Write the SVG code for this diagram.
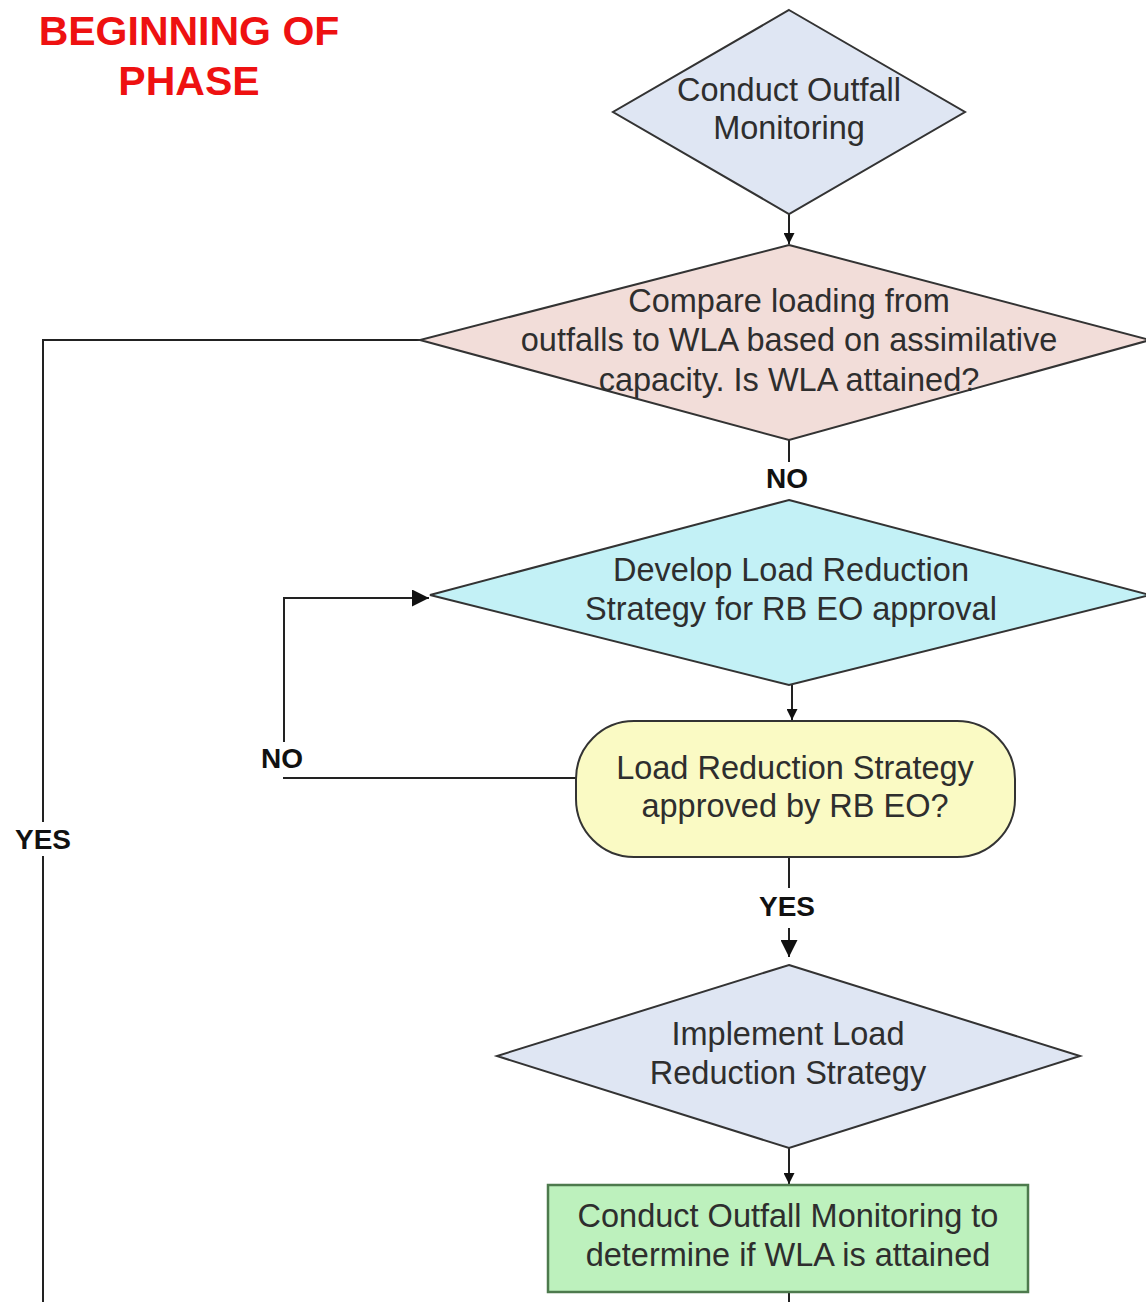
<svg xmlns="http://www.w3.org/2000/svg" width="1146" height="1302" viewBox="0 0 1146 1302">
<style>
.t{font-family:"Liberation Sans",Arial,sans-serif;font-size:32.5px;fill:#2e2e2e;text-anchor:middle}
.lab{font-family:"Liberation Sans",Arial,sans-serif;font-size:28px;font-weight:bold;fill:#111;text-anchor:middle}
.title{font-family:"Liberation Sans",Arial,sans-serif;font-size:41px;font-weight:bold;fill:#ee1111;text-anchor:middle}
.sh{stroke:#333;stroke-width:2}
.c{fill:none;stroke:#222;stroke-width:2}
</style>
<defs>
<marker id="ah" viewBox="0 0 10 10" refX="10" refY="5" markerWidth="11" markerHeight="11" markerUnits="userSpaceOnUse" orient="auto">
<path d="M0,0 L10,5 L0,10 z" fill="#111"/>
</marker>
<marker id="ahb" viewBox="0 0 10 10" refX="10" refY="5" markerWidth="17" markerHeight="17" markerUnits="userSpaceOnUse" orient="auto">
<path d="M0,0 L10,5 L0,10 z" fill="#111"/>
</marker>
</defs>
<rect width="1146" height="1302" fill="#fff"/>
<g id="title">
<text class="title" x="189" y="45">BEGINNING OF</text>
<text class="title" x="189" y="95">PHASE</text>
</g>
<g id="connectors">
<line class="c" x1="789" y1="214" x2="789" y2="244" marker-end="url(#ah)"/>
<polyline class="c" points="422,340 43,340 43,822"/>
<line class="c" x1="43" y1="856" x2="43" y2="1302"/>
<line class="c" x1="789" y1="440" x2="789" y2="462"/>
<line class="c" x1="792" y1="685" x2="792" y2="720" marker-end="url(#ah)"/>
<line class="c" x1="576" y1="778" x2="283" y2="778"/>
<polyline class="c" points="284,742 284,598 429,598" marker-end="url(#ahb)"/>
<line class="c" x1="789" y1="857" x2="789" y2="888"/>
<line class="c" x1="789" y1="928" x2="789" y2="957" marker-end="url(#ahb)"/>
<line class="c" x1="789" y1="1148" x2="789" y2="1184" marker-end="url(#ah)"/>
<line class="c" x1="789" y1="1292" x2="789" y2="1302"/>
<text class="lab" x="787" y="488">NO</text>
<text class="lab" x="282" y="768">NO</text>
<text class="lab" x="787" y="916">YES</text>
<text class="lab" x="43" y="849">YES</text>
</g>
<g id="n1">
<polygon class="sh" points="789,10 965,112 789,214 613,112" fill="#dfe6f3"/>
<text class="t" x="789" y="101">Conduct Outfall</text>
<text class="t" x="789" y="139">Monitoring</text>
</g>
<g id="n2">
<polygon class="sh" points="789,245 1150,340 789,440 420,340" fill="#f2ddd9"/>
<text class="t" x="789" y="312">Compare loading from</text>
<text class="t" x="789" y="351">outfalls to WLA based on assimilative</text>
<text class="t" x="789" y="391">capacity. Is WLA attained?</text>
</g>
<g id="n3">
<polygon class="sh" points="789,500 1150,595 789,685 430,595" fill="#c3f1f6"/>
<text class="t" x="791" y="581">Develop Load Reduction</text>
<text class="t" x="791" y="620">Strategy for RB EO approval</text>
</g>
<g id="n4">
<rect class="sh" x="576" y="721" width="439" height="136" rx="58" ry="58" fill="#fafac4"/>
<text class="t" x="795" y="779">Load Reduction Strategy</text>
<text class="t" x="795" y="817">approved by RB EO?</text>
</g>
<g id="n5">
<polygon class="sh" points="789,965 1080,1056 789,1148 497,1056" fill="#dfe6f3"/>
<text class="t" x="788" y="1045">Implement Load</text>
<text class="t" x="788" y="1084">Reduction Strategy</text>
</g>
<g id="n6">
<rect x="548" y="1185" width="480" height="107" fill="#bdf1bd" stroke="#4d7a4d" stroke-width="2.5"/>
<text class="t" x="788" y="1227">Conduct Outfall Monitoring to</text>
<text class="t" x="788" y="1266">determine if WLA is attained</text>
</g>
</svg>
